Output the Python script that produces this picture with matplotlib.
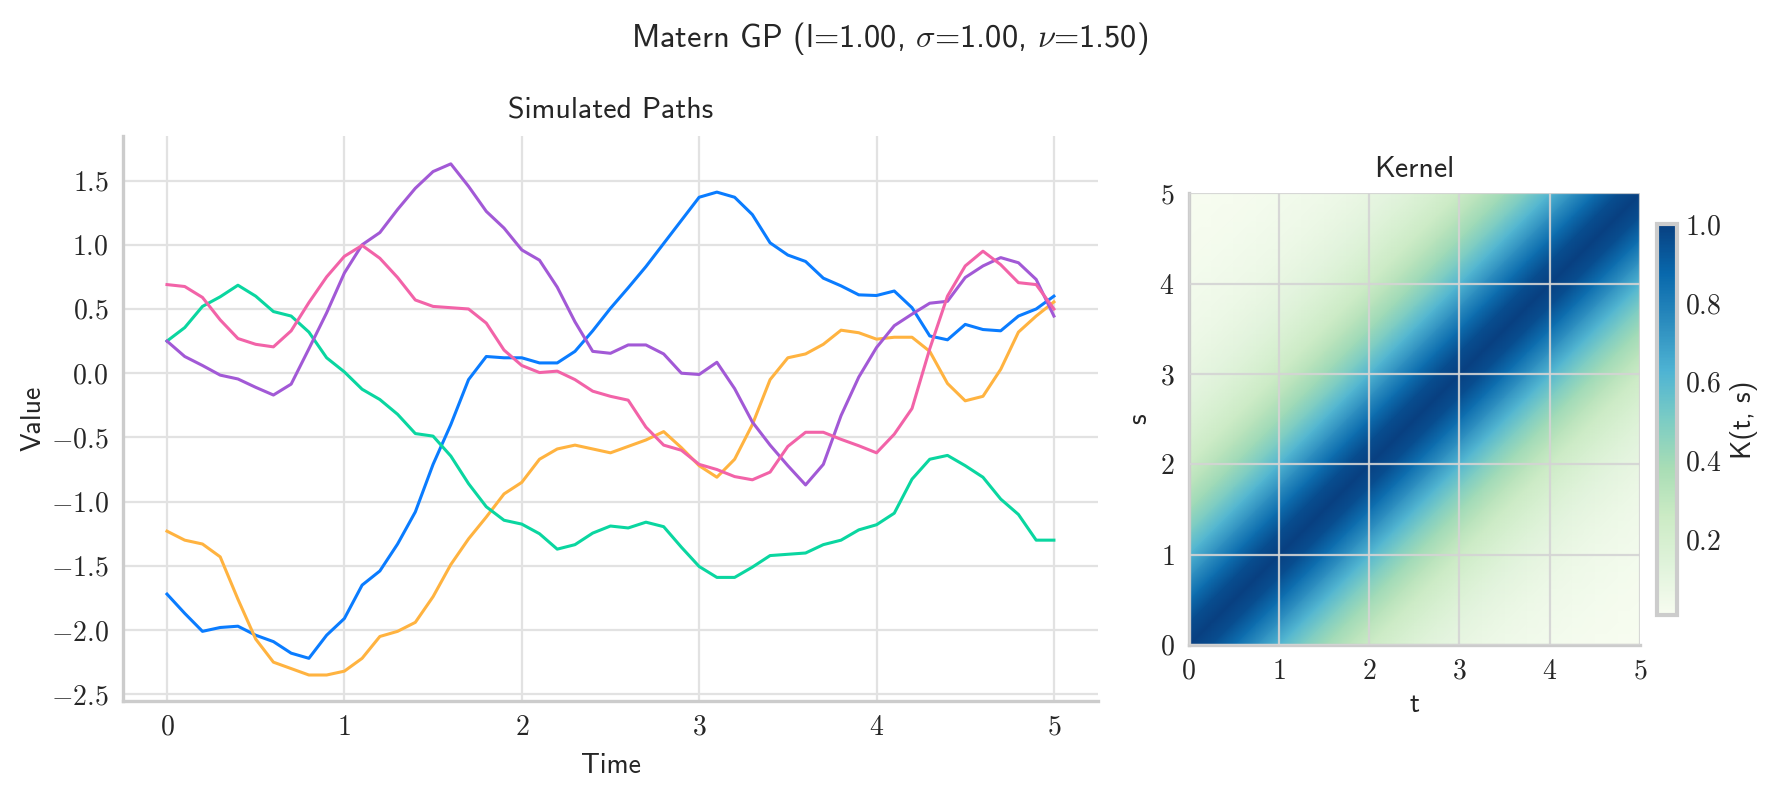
import numpy as np
import matplotlib
matplotlib.use('Agg')
import matplotlib.pyplot as plt
import matplotlib.tri as mtri
from matplotlib.ticker import FuncFormatter

# ── Data ────────────────────────────────────────────────────
time = np.linspace(0, 5, 51)

path_blue = [-1.72, -1.87, -2.01, -1.98, -1.97, -2.04, -2.09, -2.18, -2.22, -2.04,
             -1.91, -1.65, -1.54, -1.33, -1.08, -0.71, -0.40, -0.05, 0.13, 0.12,
             0.12, 0.08, 0.08, 0.17, 0.33, 0.505, 0.665, 0.83, 1.01, 1.19,
             1.37, 1.41, 1.37, 1.235, 1.015, 0.92, 0.87, 0.74, 0.68, 0.61,
             0.605, 0.64, 0.51, 0.29, 0.26, 0.38, 0.34, 0.33, 0.445, 0.50, 0.60]

path_orange = [-1.23, -1.30, -1.33, -1.43, -1.76, -2.07, -2.25, -2.30, -2.35, -2.35,
               -2.32, -2.22, -2.05, -2.01, -1.94, -1.74, -1.49, -1.29, -1.12, -0.94,
               -0.85, -0.67, -0.59, -0.56, -0.59, -0.62, -0.57, -0.52, -0.455, -0.58,
               -0.72, -0.81, -0.67, -0.40, -0.05, 0.12, 0.15, 0.225, 0.335, 0.315,
               0.265, 0.28, 0.28, 0.17, -0.08, -0.215, -0.18, 0.03, 0.32, 0.445, 0.555]

path_green = [0.25, 0.355, 0.52, 0.595, 0.685, 0.60, 0.48, 0.445, 0.32, 0.12,
              0.01, -0.125, -0.205, -0.32, -0.47, -0.49, -0.645, -0.86, -1.04, -1.145,
              -1.175, -1.25, -1.37, -1.335, -1.245, -1.19, -1.205, -1.16, -1.195, -1.355,
              -1.505, -1.59, -1.59, -1.51, -1.42, -1.41, -1.40, -1.335, -1.30, -1.22,
              -1.18, -1.09, -0.825, -0.67, -0.64, -0.72, -0.81, -0.98, -1.10, -1.30, -1.30]

path_purple = [0.25, 0.13, 0.06, -0.015, -0.045, -0.11, -0.17, -0.085, 0.19, 0.47,
               0.78, 1.00, 1.095, 1.275, 1.44, 1.57, 1.63, 1.455, 1.26, 1.13,
               0.96, 0.88, 0.67, 0.40, 0.17, 0.155, 0.22, 0.22, 0.15, 0.0,
               -0.01, 0.085, -0.12, -0.38, -0.56, -0.72, -0.87, -0.71, -0.33, -0.03,
               0.20, 0.37, 0.46, 0.545, 0.56, 0.745, 0.835, 0.90, 0.86, 0.73, 0.445]

path_pink = [0.69, 0.675, 0.59, 0.415, 0.27, 0.225, 0.205, 0.33, 0.55, 0.75,
             0.91, 0.995, 0.895, 0.745, 0.57, 0.52, 0.51, 0.50, 0.39, 0.18,
             0.06, 0.005, 0.016, -0.05, -0.14, -0.18, -0.21, -0.42, -0.56, -0.60,
             -0.71, -0.75, -0.805, -0.83, -0.77, -0.57, -0.46, -0.46, -0.515, -0.565,
             -0.62, -0.475, -0.275, 0.19, 0.60, 0.835, 0.95, 0.845, 0.705, 0.69, 0.50]

paths = [path_blue, path_orange, path_green, path_purple, path_pink]
path_colors = ['#0a7cff', '#ffb340', '#0ad6a0', '#a259d6', '#f263a8']

kernel_lags = np.linspace(0, 5, 21)
kernel_profile = [1.0, 0.955, 0.856, 0.736, 0.616, 0.504, 0.406, 0.324, 0.255, 0.20,
                  0.155, 0.12, 0.092, 0.070, 0.054, 0.041, 0.031, 0.023, 0.017, 0.013, 0.010]

# ── Style ────────────────────────────────────────────────────
plt.rcParams['font.family'] = ['cmss10', 'DejaVu Sans']
plt.rcParams['mathtext.fontset'] = 'cm'
plt.rcParams['axes.formatter.use_mathtext'] = True

GRID = '#e2e2e2'
SPINE = '#cccccc'
TEXT = '#262626'

fig = plt.figure(figsize=(8.9, 3.965), dpi=200)

fmt1 = FuncFormatter(lambda v, p: f'${v:.1f}$')
fmt0 = FuncFormatter(lambda v, p: f'${v:.0f}$')

# ── Left: simulated paths ────────────────────────────────────
ax = fig.add_axes([0.0689, 0.1164, 0.5481, 0.7126])
for vals, col in zip(paths, path_colors):
    ax.plot(time, vals, color=col, lw=1.1)
ax.set_xlim(-0.25, 5.25)
ax.set_ylim(-2.55, 1.85)
ax.set_xticks(range(6))
ax.set_yticks(np.arange(-2.5, 1.51, 0.5))
ax.xaxis.set_major_formatter(fmt0)
ax.yaxis.set_major_formatter(fmt1)
ax.grid(True, color=GRID, lw=0.8)
ax.set_axisbelow(True)
ax.set_title('Simulated Paths', fontsize=10.8, color=TEXT, pad=6)
ax.set_xlabel('Time', fontsize=10, color=TEXT, labelpad=5)
ax.set_ylabel('Value', fontsize=10, color=TEXT, labelpad=2)

# ── Right: kernel heatmap ────────────────────────────────────
# Toeplitz matrix from the lag profile, triangles split along the diagonal
n = len(kernel_lags)
idx = np.abs(np.arange(n)[:, None] - np.arange(n)[None, :])
K = np.array(kernel_profile)[idx]
gx, gy = np.meshgrid(kernel_lags, kernel_lags)
tris = []
for i in range(n - 1):
    for j in range(n - 1):
        a, b, c, d = i * n + j, i * n + j + 1, (i + 1) * n + j + 1, (i + 1) * n + j
        tris.append([a, b, c])
        tris.append([a, c, d])
tri = mtri.Triangulation(gx.ravel(), gy.ravel(), tris)

axk = fig.add_axes([0.6677, 0.1866, 0.2537, 0.5696])
mesh = axk.tripcolor(tri, K.ravel(), cmap='GnBu', shading='gouraud')
axk.set_xlim(0, 5)
axk.set_ylim(0, 5)
axk.set_aspect('equal')
axk.set_xticks(range(6))
axk.set_yticks(range(6))
axk.xaxis.set_major_formatter(fmt0)
axk.yaxis.set_major_formatter(fmt0)
axk.grid(True, color='#d4d4d4', lw=0.8, alpha=0.9)
axk.set_axisbelow(False)
axk.set_title('Kernel', fontsize=10.8, color=TEXT, pad=6)
axk.set_xlabel('t', fontsize=10, color=TEXT, labelpad=3)
axk.set_ylabel('s', fontsize=10, color=TEXT, labelpad=3)

for a in (ax, axk):
    for side in ('top', 'right'):
        a.spines[side].set_visible(False)
    for side in ('left', 'bottom'):
        a.spines[side].set_color(SPINE)
        a.spines[side].set_linewidth(1.2)
    a.tick_params(length=0, pad=5, labelsize=10, colors=TEXT)

cax = fig.add_axes([0.931, 0.2245, 0.0112, 0.493])
cb = fig.colorbar(mesh, cax=cax)
cb.set_ticks([0.2, 0.4, 0.6, 0.8, 1.0])
cb.ax.yaxis.set_major_formatter(fmt1)
cb.outline.set_edgecolor(SPINE)
cb.outline.set_linewidth(1.5)
cb.ax.tick_params(length=0, pad=3, labelsize=10, colors=TEXT)
cb.set_label('K(t, s)', fontsize=10, color=TEXT, labelpad=3)

fig.suptitle(r'Matern GP (l=1.00, $\sigma$=1.00, $\nu$=1.50)',
             fontsize=11.7, color=TEXT, y=0.975)

fig.savefig('out.png', dpi=200)
